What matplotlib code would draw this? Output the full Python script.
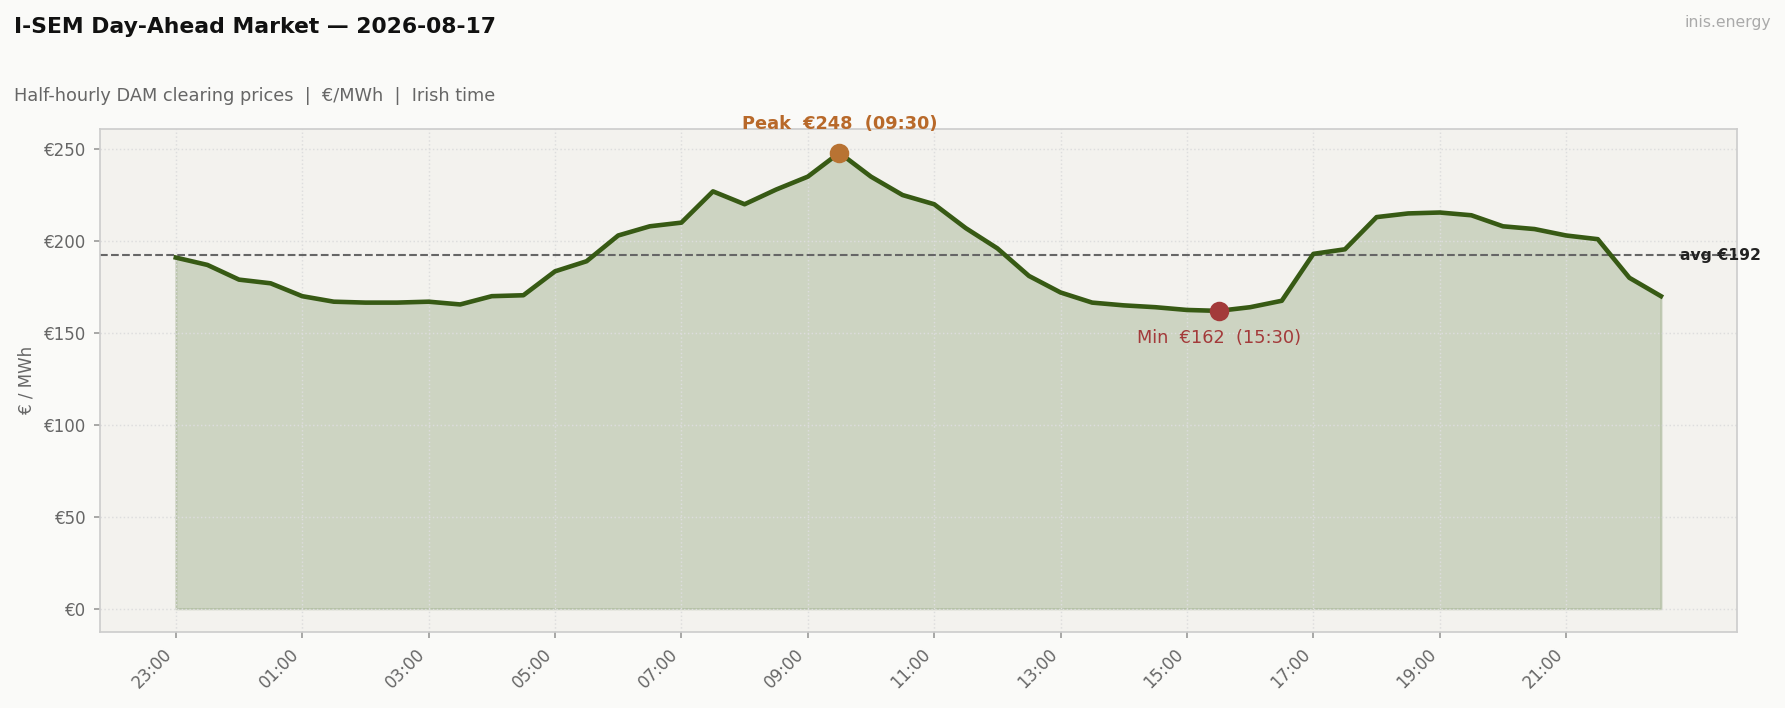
import matplotlib
matplotlib.use("Agg")
import matplotlib.pyplot as plt
import numpy as np

times = [f"{(23 + i//2) % 24:02d}:{'30' if i % 2 else '00'}" for i in range(48)]
prices = [191, 187, 179, 177, 170, 167, 166.5, 166.5, 167, 165.5, 170, 170.5,
          183.5, 189, 203, 208, 210, 227, 220, 228, 235, 248, 235, 225,
          220, 207, 196, 181, 172, 166.5, 165, 164, 162.5, 162, 164, 167.5,
          193, 195.5, 213, 215, 215.5, 214, 208, 206.5, 203, 201, 180, 170]

x = np.arange(len(prices))
p = np.array(prices)
avg = p.mean()
imax, imin = int(p.argmax()), int(p.argmin())

fig = plt.figure(figsize=(11.9, 4.72), dpi=150, facecolor="#fafaf8")
ax = fig.add_axes([0.056, 0.108, 0.917, 0.71])
ax.set_facecolor("#f3f2ee")
ax.fill_between(x, p, 0, color="#4a6b2a", alpha=0.22, edgecolor="#4a6b2a", linewidth=1)
ax.plot(x, p, color="#375a14", lw=2.2, zorder=3)
ax.axhline(avg, color="#666", ls="--", lw=1)
ax.text(47.6, avg, f"avg €{avg:.0f}", fontsize=7.5, fontweight="bold", color="#222", va="center", ha="left")
ax.scatter([imax], [p[imax]], s=70, color="#b87333", zorder=4)
ax.scatter([imin], [p[imin]], s=70, color="#a33a3a", zorder=4)
ax.text(imax, p[imax] + 11, f"Peak  €{p[imax]:.0f}  ({times[imax]})", color="#b8692a",
        fontsize=8.5, fontweight="bold", ha="center", va="bottom")
ax.text(imin, p[imin] - 10, f"Min  €{p[imin]:.0f}  ({times[imin]})", color="#a33a3a",
        fontsize=8.5, ha="center", va="top")
ax.set_xlim(-2.4, 49.4)
ax.set_ylim(-12.4, 261)
ax.set_xticks(x[::4])
ax.set_xticklabels(times[::4], rotation=45, ha="right", fontsize=8, color="#666")
ax.set_yticks(range(0, 251, 50))
ax.set_yticklabels([f"€{v}" for v in range(0, 251, 50)], fontsize=8, color="#666")
ax.set_ylabel("€ / MWh", fontsize=8, color="#666")
ax.grid(True, color="#ddd", ls=":", lw=0.7)
for s in ax.spines.values():
    s.set_color("#ccc")
ax.tick_params(length=3, color="#999")
fig.text(0.008, 0.962, "I-SEM Day-Ahead Market — 2026-08-17", fontsize=10.5, fontweight="bold", color="#111", va="center")
fig.text(0.008, 0.865, "Half-hourly DAM clearing prices  |  €/MWh  |  Irish time", fontsize=8.5, color="#666", va="center")
fig.text(0.992, 0.968, "inis.energy", fontsize=7.5, color="#aaa", ha="right", va="center")
fig.savefig("out.png", dpi=150, facecolor=fig.get_facecolor())
